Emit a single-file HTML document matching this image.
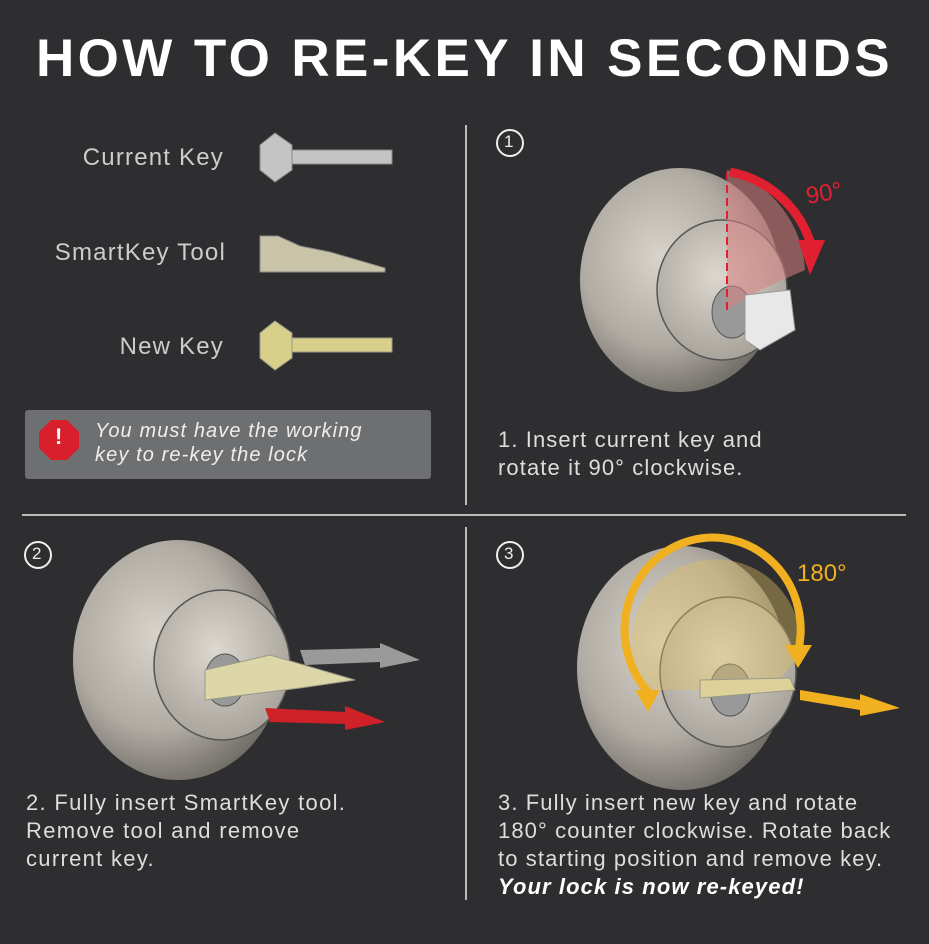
<!DOCTYPE html>
<html><head><meta charset="utf-8"><style>
body{margin:0;background:#2e2e30;}
#c{position:relative;width:929px;height:944px;overflow:hidden;background:#2e2e30;font-family:"Liberation Sans",sans-serif;color:#ddd;}
.t{position:absolute;white-space:nowrap;}
.b{font-size:22px;line-height:28px;letter-spacing:1.1px;}
.l{font-size:24px;color:#ccc;letter-spacing:1.2px;}
</style></head><body><div id="c">
<svg width="929" height="944" style="position:absolute;left:0;top:0">
<defs>
<radialGradient id="m" cx="40%" cy="40%" r="65%"><stop offset="0" stop-color="#d8d4cc"/><stop offset="0.6" stop-color="#b0aca4"/><stop offset="1" stop-color="#6e6a64"/></radialGradient>
<radialGradient id="f" cx="45%" cy="40%" r="60%"><stop offset="0" stop-color="#dcd8d0"/><stop offset="1" stop-color="#a8a49c"/></radialGradient>
</defs>
<line x1="466" y1="125" x2="466" y2="505" stroke="#bbb" stroke-width="2"/>
<line x1="466" y1="527" x2="466" y2="900" stroke="#bbb" stroke-width="2"/>
<line x1="22" y1="515" x2="906" y2="515" stroke="#bbb" stroke-width="2"/>
<g fill="#c4c4c4" stroke="#888">
<polygon points="260,145 275,133 292,145 292,170 275,182 260,170"/>
<rect x="292" y="150" width="100" height="14"/>
</g>
<g fill="#c9c4a8" stroke="#888"><polygon points="260,236 278,236 300,246 330,252 385,268 385,272 260,272"/></g>
<g fill="#d8cf8a" stroke="#998"><polygon points="260,333 275,321 292,333 292,358 275,370 260,358"/><rect x="292" y="338" width="100" height="14"/></g>
<rect x="25" y="410" width="406" height="69" rx="3" fill="#6e6f70"/>
<polygon points="51,420 67,420 79,432 79,448 67,460 51,460 39,448 39,432" fill="#d8202c"/>
<circle cx="510" cy="143" r="13" fill="none" stroke="#eee" stroke-width="2"/>
<circle cx="38" cy="555" r="13" fill="none" stroke="#eee" stroke-width="2"/>
<circle cx="510" cy="555" r="13" fill="none" stroke="#eee" stroke-width="2"/>
<ellipse cx="680" cy="280" rx="100" ry="112" fill="url(#m)"/>
<ellipse cx="722" cy="290" rx="65" ry="70" fill="url(#f)" stroke="#555" stroke-width="1.5"/>
<ellipse cx="732" cy="312" rx="20" ry="26" fill="#999" stroke="#555"/>
<path d="M727,170 A110,110 0 0 1 805,270 L760,290 L727,310 Z" fill="#d88080" opacity="0.55"/>
<path d="M730,172 A105,105 0 0 1 812,248" fill="none" stroke="#e02030" stroke-width="9"/>
<polygon points="798,240 825,240 810,275" fill="#e02030"/>
<line x1="727" y1="172" x2="727" y2="310" stroke="#e02030" stroke-width="2" stroke-dasharray="8,5"/>
<polygon points="745,295 790,290 795,330 760,350 745,340" fill="#e8e8e8" stroke="#999"/>
<ellipse cx="178" cy="660" rx="105" ry="120" fill="url(#m)"/>
<ellipse cx="222" cy="665" rx="68" ry="75" fill="url(#f)" stroke="#555" stroke-width="1.5"/>
<ellipse cx="225" cy="680" rx="20" ry="26" fill="#999" stroke="#555"/>
<polygon points="205,670 270,655 355,680 300,688 205,700" fill="#ddd6a8" stroke="#998"/>
<polygon points="300,650 380,648 380,643 420,660 380,668 380,662 305,665" fill="#9a9a9a"/>
<polygon points="265,708 345,712 345,706 385,722 345,730 345,724 270,722" fill="#d02028"/>
<ellipse cx="682" cy="668" rx="105" ry="122" fill="url(#m)"/>
<ellipse cx="728" cy="672" rx="68" ry="75" fill="url(#f)" stroke="#555" stroke-width="1.5"/>
<ellipse cx="730" cy="690" rx="20" ry="26" fill="#999" stroke="#555"/>
<path d="M644,690 A85,85 0 1 1 800,655 L770,690 Z" fill="#e0c060" opacity="0.4"/>
<path d="M648,692 A88,92 0 1 1 798,652" fill="none" stroke="#f0b020" stroke-width="8"/>
<polygon points="635,690 660,690 648,712" fill="#f0b020"/>
<polygon points="785,645 812,645 798,668" fill="#f0b020"/>
<polygon points="700,680 790,678 795,690 700,698" fill="#ddd098" stroke="#998"/>
<polygon points="800,690 860,700 860,694 900,708 860,716 860,710 800,700" fill="#f0b020"/>
</svg>
<div class="t" style="left:0;width:929px;text-align:center;top:28px;font-size:53px;font-weight:bold;color:#fff;letter-spacing:3.4px">HOW TO RE-KEY IN SECONDS</div>
<div class="t l" style="right:705px;top:144px">Current Key</div>
<div class="t l" style="right:703px;top:239px">SmartKey Tool</div>
<div class="t l" style="right:705px;top:333px">New Key</div>
<div class="t" style="left:55px;top:424px;font-size:22px;font-weight:bold;color:#fff">!</div>
<div class="t" style="left:95px;top:419px;font-size:20px;font-style:italic;color:#eee;line-height:24px;letter-spacing:1.1px">You must have the working<br>key to re-key the lock</div>
<div class="t" style="left:504px;top:132px;font-size:17px;color:#eee">1</div>
<div class="t" style="left:32px;top:544px;font-size:17px;color:#eee">2</div>
<div class="t" style="left:504px;top:544px;font-size:17px;color:#eee">3</div>
<div class="t" style="left:806px;top:180px;font-size:24px;color:#e02030;transform:rotate(-10deg)">90°</div>
<div class="t" style="left:797px;top:560px;font-size:24px;color:#f0b020">180°</div>
<div class="t b" style="left:498px;top:426px">1. Insert current key and<br>rotate it 90° clockwise.</div>
<div class="t b" style="left:26px;top:789px;letter-spacing:1.3px">2. Fully insert SmartKey tool.<br>Remove tool and remove<br>current key.</div>
<div class="t b" style="left:498px;top:789px;letter-spacing:1.1px">3. Fully insert new key and rotate<br>180° counter clockwise. Rotate back<br>to starting position and remove key.<br><b><i style="color:#fff">Your lock is now re-keyed!</i></b></div>
</div></body></html>
